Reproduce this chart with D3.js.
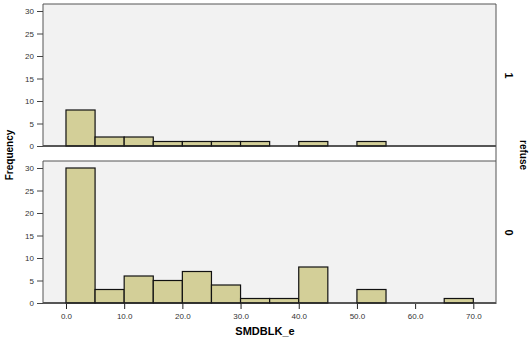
<!DOCTYPE html>
<html>
<head>
<meta charset="utf-8">
<script src="https://cdn.jsdelivr.net/npm/d3@7"></script>
<style>
  body { margin: 0; background: #fff; }
  text { font-family: "Liberation Sans", Arial, sans-serif; }
</style>
</head>
<body>
<svg id="chart" width="531" height="341"></svg>
<script>
// bin lower edges (width 5)
const binStarts = [0, 5, 10, 15, 20, 25, 30, 35, 40, 45, 50, 55, 60, 65];
const binWidth = 5;
// counts per bin for each panel of "refuse"
const countsRefuse1 = [8, 2, 2, 1, 1, 1, 1, 0, 1, 0, 1, 0, 0, 0];
const countsRefuse0 = [30, 3, 6, 5, 7, 4, 1, 1, 8, 0, 3, 0, 0, 1];
const panelLabels = ["1", "0"];
const xTicks = [0, 10, 20, 30, 40, 50, 60, 70];
const yTicks = [0, 5, 10, 15, 20, 25, 30];

const svg = d3.select("#chart");
const left = 43, right = 496;
const panels = [
  { label: panelLabels[0], counts: countsRefuse1, top: 4, bottom: 147 },
  { label: panelLabels[1], counts: countsRefuse0, top: 161, bottom: 304 }
];

const x = d3.scaleLinear().domain([-3.95, 73.9]).range([left, right]);

panels.forEach(p => {
  const y = d3.scaleLinear().domain([0, 30]).range([p.bottom - 1, p.top + 7]);
  const g = svg.append("g");

  g.append("rect")
    .attr("x", left).attr("y", p.top)
    .attr("width", right - left).attr("height", p.bottom - p.top)
    .attr("fill", "#f2f2f2");

  g.selectAll("rect.bar")
    .data(binStarts.map((s, i) => ({ s, c: p.counts[i] })).filter(d => d.c > 0))
    .enter().append("rect")
    .attr("class", "bar")
    .attr("x", d => x(d.s))
    .attr("y", d => y(d.c))
    .attr("width", d => x(d.s + binWidth) - x(d.s))
    .attr("height", d => y(0) - y(d.c))
    .attr("fill", "#d3cf98")
    .attr("stroke", "#111")
    .attr("stroke-width", 1.2);

  // baseline
  g.append("line")
    .attr("x1", left).attr("x2", right)
    .attr("y1", y(0)).attr("y2", y(0))
    .attr("stroke", "#222").attr("stroke-width", 1.5);

  // frame (left, top, right)
  g.append("path")
    .attr("d", `M${left},${p.bottom}V${p.top}H${right}V${p.bottom}`)
    .attr("fill", "none").attr("stroke", "#555").attr("stroke-width", 1);

  const yAxis = g.append("g")
    .attr("transform", `translate(${left},0)`)
    .call(d3.axisLeft(y).tickValues(yTicks).tickSize(6).tickPadding(3));
  yAxis.select(".domain").remove();
  yAxis.selectAll("line").attr("stroke", "#444");
  yAxis.selectAll("text").attr("font-size", 8).attr("fill", "#333");

  svg.append("text")
    .attr("transform", `translate(505,${(p.top + p.bottom) / 2}) rotate(90)`)
    .attr("text-anchor", "middle")
    .attr("font-size", 11).attr("font-weight", "bold")
    .text(p.label);
});

// right border through the gap
svg.append("line")
  .attr("x1", right).attr("x2", right).attr("y1", 147).attr("y2", 161)
  .attr("stroke", "#555");

const xAxis = svg.append("g")
  .attr("transform", "translate(0,304)")
  .call(d3.axisBottom(x).tickValues(xTicks).tickFormat(d3.format(".1f")).tickSize(5).tickPadding(4));
xAxis.select(".domain").remove();
xAxis.selectAll("line").attr("stroke", "#222");
xAxis.selectAll("text").attr("font-size", 8).attr("fill", "#333");

svg.append("text")
  .attr("x", 265).attr("y", 335)
  .attr("text-anchor", "middle")
  .attr("font-size", 11).attr("font-weight", "bold")
  .text("SMDBLK_e");

svg.append("text")
  .attr("transform", "translate(13,155) rotate(-90)")
  .attr("text-anchor", "middle")
  .attr("font-size", 10).attr("font-weight", "bold")
  .text("Frequency");

svg.append("text")
  .attr("transform", "translate(520,155) rotate(90)")
  .attr("text-anchor", "middle")
  .attr("font-size", 10).attr("font-weight", "bold")
  .text("refuse");
</script>
</body>
</html>
